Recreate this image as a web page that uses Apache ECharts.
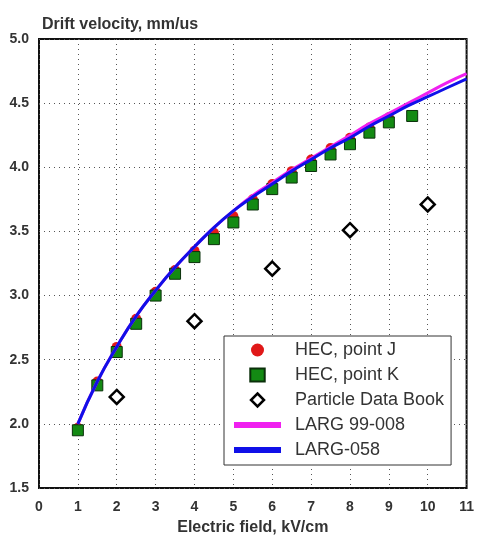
<!DOCTYPE html>
<html><head><meta charset="utf-8">
<script src="https://cdn.jsdelivr.net/npm/echarts@6/dist/echarts.min.js"></script>
<style>html,body{margin:0;padding:0;background:#fff}#c{width:477px;height:541px}</style>
</head><body><div id="c"></div>
<script>
const fieldK = [1, 1.5, 2, 2.5, 3, 3.5, 4, 4.5, 5, 5.5, 6, 6.5, 7, 7.5, 8, 8.5, 9, 9.6];
const hecK = [1.95, 2.30, 2.56, 2.78, 3.00, 3.17, 3.30, 3.44, 3.57, 3.71, 3.83, 3.92, 4.01, 4.10, 4.18, 4.27, 4.35, 4.40];
const fieldJ = [1, 1.5, 2, 2.5, 3, 3.5, 4, 4.5, 5, 5.5, 6, 6.5, 7, 7.5, 8, 8.5, 9];
const hecJ = [1.97, 2.33, 2.60, 2.82, 3.03, 3.20, 3.35, 3.49, 3.62, 3.75, 3.87, 3.97, 4.06, 4.15, 4.23, 4.31, 4.39];
const fieldPDB = [2, 4, 6, 8, 10];
const pdb = [2.21, 2.80, 3.21, 3.51, 3.71];
const fieldCurve = [1, 1.5, 2, 2.5, 3, 3.5, 4, 4.5, 5, 5.5, 6, 6.5, 7, 7.5, 8, 8.5, 9, 9.5, 10, 10.5, 11];
const larg99 = [2.00, 2.33, 2.60, 2.84, 3.04, 3.22, 3.38, 3.53, 3.66, 3.78, 3.88, 3.98, 4.07, 4.16, 4.25, 4.34, 4.42, 4.50, 4.58, 4.66, 4.73];
const larg058 = [2.00, 2.33, 2.60, 2.84, 3.04, 3.22, 3.38, 3.53, 3.66, 3.77, 3.87, 3.97, 4.06, 4.15, 4.23, 4.32, 4.40, 4.48, 4.55, 4.62, 4.69];
const names = ['HEC, point J', 'HEC, point K', 'Particle Data Book', 'LARG 99-008', 'LARG-058'];
const titleText = 'Drift velocity, mm/us';
const xName = 'Electric field, kV/cm';

const zip = (xs, ys) => xs.map((x, i) => [x, ys[i]]);
const font = 'Liberation Sans, Arial, sans-serif';
const squarePath = 'path://M0,0H10V9H0Z';
const diamondPath = 'path://M6,0L12,6L6,12L0,6Z';
const chart = echarts.init(document.getElementById('c'), null, {renderer: 'canvas'});
chart.setOption({
  animation: false,
  backgroundColor: '#fff',
  title: {
    text: titleText, left: 37, top: 12,
    textStyle: {fontFamily: font, fontSize: 16, fontWeight: 'bold', color: '#333'}
  },
  grid: {left: 39, right: 9, top: 39, bottom: 49, show: true, borderColor: '#111', borderWidth: 2, backgroundColor: 'transparent'},
  xAxis: {
    type: 'value', min: 0, max: 11, interval: 1,
    name: xName, nameLocation: 'middle', nameGap: 32,
    nameTextStyle: {fontFamily: font, fontSize: 16, fontWeight: 'bold', color: '#333'},
    axisLine: {show: false}, axisTick: {show: false},
    axisLabel: {fontFamily: font, fontSize: 14, fontWeight: 'bold', color: '#333', margin: 12},
    splitLine: {show: true, lineStyle: {color: '#555', width: 1, type: [1, 4]}}
  },
  yAxis: {
    type: 'value', min: 1.5, max: 5.0, interval: 0.5,
    axisLine: {show: false}, axisTick: {show: false},
    axisLabel: {fontFamily: font, fontSize: 14, fontWeight: 'bold', color: '#333', margin: 10,
      formatter: v => v.toFixed(1)},
    splitLine: {show: true, lineStyle: {color: '#555', width: 1, type: [1, 4]}}
  },
  legend: {
    orient: 'vertical', left: 224, top: 336,
    backgroundColor: '#fff', borderColor: '#333', borderWidth: 1,
    padding: [5, 7, 6, 7],
    itemWidth: 47, itemHeight: 13, itemGap: 7,
    symbolKeepAspect: true,
    textStyle: {fontFamily: font, fontSize: 18, color: '#333', padding: [0, 0, 0, 9]},
    data: [
      {name: names[0], icon: 'circle', itemStyle: {color: '#e01818'}},
      {name: names[1], icon: squarePath},
      {name: names[2], icon: diamondPath, itemStyle: {color: '#fff', borderColor: '#000', borderWidth: 2.5}},
      {name: names[3], itemStyle: {opacity: 0}, lineStyle: {width: 6}},
      {name: names[4], itemStyle: {opacity: 0}, lineStyle: {width: 6}}
    ]
  },
  series: [
    {name: names[3], type: 'line', data: zip(fieldCurve, larg99), smooth: true, symbol: 'none',
      lineStyle: {color: '#f020f0', width: 3}, itemStyle: {color: '#f020f0'}},
    {name: names[4], type: 'line', data: zip(fieldCurve, larg058), smooth: true, symbol: 'none',
      lineStyle: {color: '#1010e8', width: 3}, itemStyle: {color: '#1010e8'}},
    {name: names[0], type: 'scatter', data: zip(fieldJ, hecJ), symbol: 'circle', symbolSize: 10,
      itemStyle: {color: '#e01818', opacity: 1}},
    {name: names[1], type: 'scatter', data: zip(fieldK, hecK), symbol: 'rect', symbolSize: 11, symbolKeepAspect: true,
      itemStyle: {color: '#138a13', borderColor: '#0a300a', borderWidth: 1, opacity: 1}},
    {name: names[2], type: 'scatter', data: zip(fieldPDB, pdb), symbol: 'diamond', symbolSize: 14, symbolKeepAspect: true,
      itemStyle: {color: '#fff', borderColor: '#000', borderWidth: 2.5, opacity: 1}}
  ]
});
</script></body></html>
